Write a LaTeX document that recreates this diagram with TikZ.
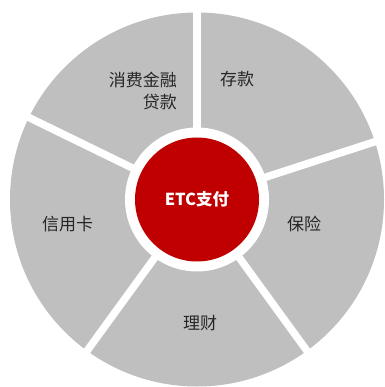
\documentclass[tikz,border=0pt]{standalone}
\usepackage{fontspec}
\usetikzlibrary{calc}
\newfontfamily\cjk{Noto Sans CJK SC}
\definecolor{sectgray}{HTML}{BFBFBF}
\definecolor{centerred}{HTML}{C00000}
\definecolor{labeltext}{HTML}{262626}
\begin{document}
\begin{tikzpicture}[x=1pt,y=-1pt,
  label/.style={font=\cjk\fontsize{17}{22}\selectfont, text=labeltext, inner sep=0pt},
  gap/.style={draw=white, line width=7.5pt}]
\useasboundingbox (0,0) rectangle (384,387);
\coordinate (c) at (197,199.5);
% gray disc
\fill[sectgray] (c) circle[radius=187pt];
% white gaps between sectors
\foreach \a [count=\i] in {90,18,-54,-126,154} {
  \coordinate (g\i) at ($(c)+(\a:190pt)$);
}
\draw[gap] (c) -- (g1);
\draw[gap] (c) -- (g2);
\draw[gap] (c) -- (g3);
\draw[gap] (c) -- (g4);
\draw[gap] (c) -- (g5);
% centre
\fill[white] (c) circle[radius=72pt];
\node[circle, fill=centerred, minimum size=124pt, inner sep=0pt,
      font=\cjk\bfseries\fontsize{16.5}{20}\selectfont, text=white] (hub) at (c) {ETC支付};
% labels
\node[label, anchor=east, align=right] (loan) at (177,91) {消费金融\\贷款};
\node[label] (deposit) at (237,79) {存款};
\node[label] (insurance) at (304,224) {保险};
\node[label] (wealth) at (200,323) {理财};
\node[label] (credit) at (67.5,224) {信用卡};
\end{tikzpicture}
\end{document}
